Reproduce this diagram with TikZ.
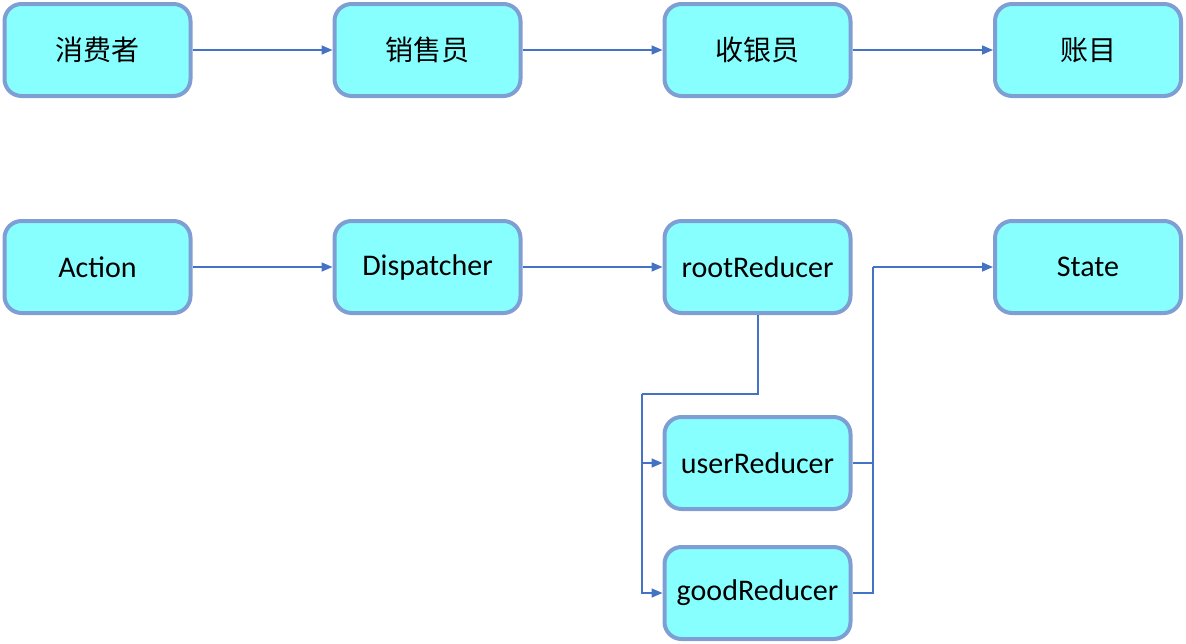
\documentclass[tikz,border=0pt]{standalone}
\usepackage{fontspec}
\setmainfont{Carlito}
\newfontfamily\cjk{Noto Sans CJK SC}
\usetikzlibrary{arrows.meta}
\definecolor{boxfill}{HTML}{88FFFF}
\definecolor{boxline}{HTML}{7F9ED4}
\definecolor{arrowc}{HTML}{4472C4}
\begin{document}
\begin{tikzpicture}[x=1pt,y=-1pt,
  box/.style={draw=boxline, fill=boxfill, line width=4pt, rounded corners=17pt,
    minimum width=186pt, minimum height=92pt, inner sep=0pt,
    font=\fontsize{30}{34}\selectfont},
  conn/.style={draw=arrowc, line width=1.6pt},
  arr/.style={conn, -{Triangle[length=11pt,width=9pt]}}]
\useasboundingbox (0,0) rectangle (1186,643);
% row 1
\node[box] (c1) at (97.5,50) {\cjk\fontsize{28}{32}\selectfont 消费者};
\node[box] (c2) at (427.5,50) {\cjk\fontsize{28}{32}\selectfont 销售员};
\node[box] (c3) at (757.5,50) {\cjk\fontsize{28}{32}\selectfont 收银员};
\node[box] (c4) at (1088,50) {\cjk\fontsize{28}{32}\selectfont 账目};
% row 2
\node[box] (a) at (97.5,267) {Action};
\node[box] (d) at (427.5,267) {Dispatcher};
\node[box] (r) at (757.5,267) {rootReducer};
\node[box] (s) at (1088,267) {State};
\node[box] (u) at (757.5,463) {userReducer};
\node[box] (g) at (757.5,593) {goodReducer};
\coordinate (split) at (642,394);
\coordinate (join) at (873,267);
% arrows
\draw[arr] (c1) -- (c2);
\draw[arr] (c2) -- (c3);
\draw[arr] (c3) -- (c4);
\draw[arr] (a) -- (d);
\draw[arr] (d) -- (r);
\draw[conn] ([xshift=0.5pt]r.south) |- (split);
\draw[arr] (split) |- (u.west);
\draw[arr] (split) |- (g.west);
\draw[conn] (u.east) -| (join);
\draw[conn] (g.east) -| (join);
\draw[arr] (join) -- (s.west);
\end{tikzpicture}
\end{document}
